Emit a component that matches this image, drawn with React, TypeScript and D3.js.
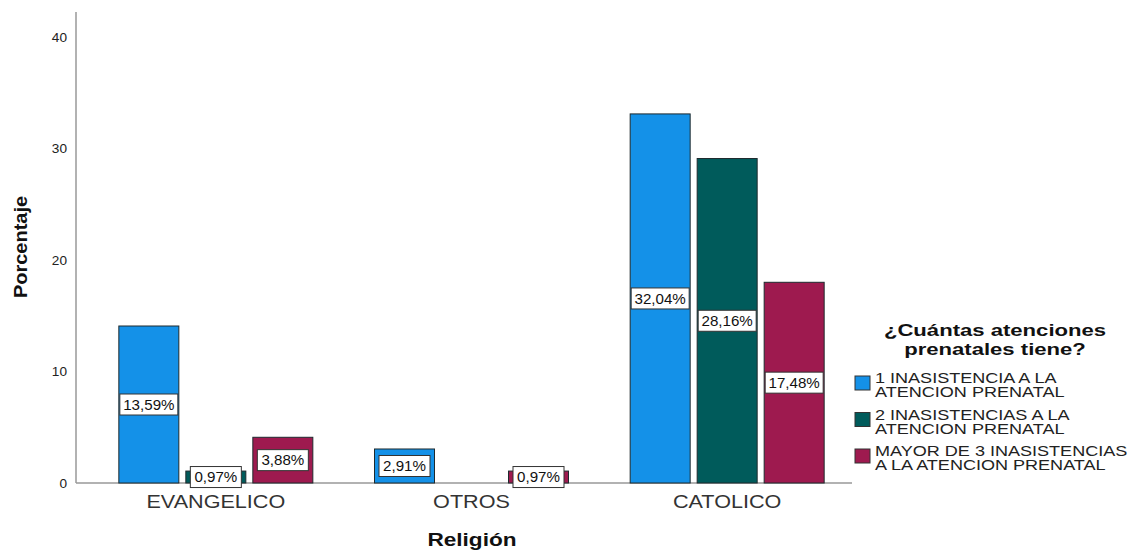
import React from "react";
import * as d3 from "d3";

const categories = ["EVANGELICO", "OTROS", "CATOLICO"];
const seriesNames = [
  ["1 INASISTENCIA A LA", "ATENCION PRENATAL"],
  ["2 INASISTENCIAS A LA", "ATENCION PRENATAL"],
  ["MAYOR DE 3 INASISTENCIAS", "A LA ATENCION PRENATAL"],
];
const colors = ["#1491e8", "#005b5b", "#9e1a4f"];
// bar heights as drawn (per category, per series); null = no bar
const barValues: (number | null)[][] = [
  [14.08, 1.07, 4.1],
  [3.05, null, 1.07],
  [33.1, 29.1, 18.0],
];
const barLabels: (string | null)[][] = [
  ["13,59%", "0,97%", "3,88%"],
  ["2,91%", null, "0,97%"],
  ["32,04%", "28,16%", "17,48%"],
];
const yTicks = [0, 10, 20, 30, 40];

const font = "Arial, 'Liberation Sans', sans-serif";

function T(props: {
  x: number; y: number; sx?: number; rot?: number; size: number; anchor?: string;
  bold?: boolean; fill?: string; dy?: string; children: React.ReactNode;
}) {
  const { x, y, sx = 1, rot = 0, size, anchor = "start", bold, fill = "#222", dy, children } = props;
  return (
    <text
      transform={`translate(${x},${y}) rotate(${rot}) scale(${sx},1)`}
      textAnchor={anchor}
      fontSize={size}
      fontWeight={bold ? "bold" : "normal"}
      fontFamily={font}
      fill={fill}
      dy={dy}
    >
      {children}
    </text>
  );
}

export default function App() {
  const W = 1139, H = 550;
  const x0 = 76, yBottom = 483, yTop = 12, xEnd = 852;
  const y = d3.scaleLinear().domain([0, 42.24]).range([yBottom, yTop]);
  const xb = d3.scaleBand().domain(categories).range([88, 855]);
  const barW = 60, step = 67;

  return (
    <svg width={W} height={H} style={{ position: "absolute", left: 0, top: 0, background: "#fff" }}>
      {/* axes */}
      <line x1={x0} x2={x0} y1={yTop} y2={yBottom} stroke="#999" strokeWidth={1.5} />
      <line x1={x0} x2={xEnd} y1={yBottom} y2={yBottom} stroke="#999" strokeWidth={1.5} />
      {yTicks.map((t) => (
        <T key={t} x={67} y={y(t)} dy="0.35em" anchor="end" size={13} sx={1.05} fill="#222">
          {t}
        </T>
      ))}
      {/* bars */}
      {categories.map((c, ci) => {
        const cx = (xb(c) as number) + xb.bandwidth() / 2;
        return barValues[ci].map((v, si) => {
          if (v === null) return null;
          const bx = cx + (si - 1) * step - barW / 2;
          return (
            <rect key={c + si} x={bx} y={y(v)} width={barW} height={yBottom - y(v)} fill={colors[si]} stroke="#1e2a2e" strokeWidth={1} />
          );
        });
      })}
      {/* labels */}
      {categories.map((c, ci) => {
        const cx = (xb(c) as number) + xb.bandwidth() / 2;
        return barLabels[ci].map((lab, si) => {
          const v = barValues[ci][si];
          if (lab === null || v === null) return null;
          const bx = cx + (si - 1) * step;
          const my = (y(v) + yBottom) / 2;
          const bw = lab.length >= 6 ? 58 : 51;
          return (
            <g key={"l" + c + si}>
              <rect x={bx - bw / 2} y={my - 10.5} width={bw} height={21} fill="#fff" stroke="#333" strokeWidth={1} />
              <T x={bx} y={my} dy="0.36em" anchor="middle" size={14} sx={1.08} fill="#111">
                {lab}
              </T>
            </g>
          );
        });
      })}
      {/* category labels */}
      {categories.map((c) => (
        <T key={"c" + c} x={(xb(c) as number) + xb.bandwidth() / 2} y={508} anchor="middle" size={18} sx={1.2} fill="#333">
          {c}
        </T>
      ))}
      {/* axis titles */}
      <T x={472} y={546} anchor="middle" size={19} sx={1.19} bold fill="#111">
        Religión
      </T>
      <T x={27} y={247} rot={-90} anchor="middle" size={18} sx={1.11} bold fill="#111">
        Porcentaje
      </T>
      {/* legend */}
      <T x={995} y={336} anchor="middle" size={17} sx={1.3} bold fill="#111">
        ¿Cuántas atenciones
      </T>
      <T x={995} y={355} anchor="middle" size={17} sx={1.3} bold fill="#111">
        prenatales tiene?
      </T>
      {seriesNames.map((lines, i) => {
        const top = 376 + i * 36.5;
        return (
          <g key={"lg" + i}>
            <rect x={855} y={top} width={15} height={14} fill={colors[i]} stroke="#333" strokeWidth={1} />
            <T x={875} y={top + 7} size={14} sx={1.29} fill="#222">{lines[0]}</T>
            <T x={875} y={top + 21} size={14} sx={1.29} fill="#222">{lines[1]}</T>
          </g>
        );
      })}
    </svg>
  );
}
